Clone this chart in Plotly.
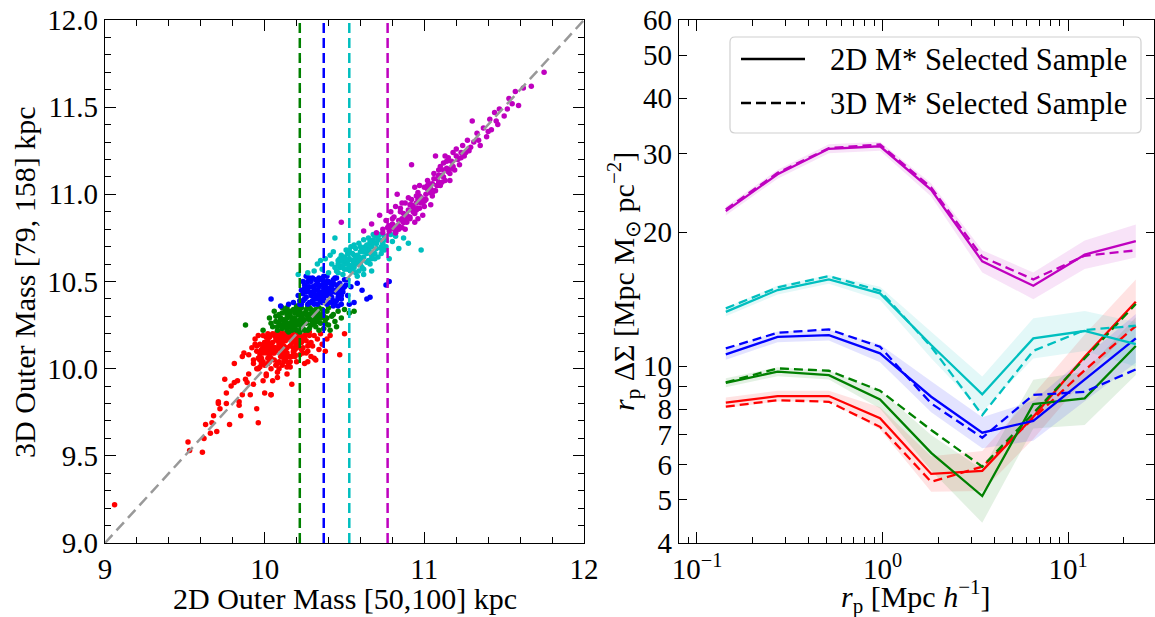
import math
import plotly.graph_objects as go

W, H = 1155, 617
FONT = "Liberation Serif"

# ---------------- left panel: outer mass comparison ----------------
red_x = [9.06, 9.52, 9.53, 9.61, 9.62, 9.63, 9.66, 9.67, 9.68, 9.70, 9.71, 9.71, 9.72, 9.75,
         9.76, 9.76, 9.78, 9.79, 9.81, 9.81, 9.83, 9.84, 9.84, 9.85, 9.86, 9.86, 9.87, 9.88,
         9.89, 9.90, 9.91, 9.93, 9.95, 9.95, 9.96, 9.97, 9.99, 9.99, 10.00, 10.01, 10.02, 10.04,
         10.05, 10.07, 10.08, 10.10, 10.11, 10.12, 10.14, 10.15,
         9.90, 9.92, 9.93, 9.94, 9.95, 9.96, 9.97, 9.98, 9.99, 10.00, 10.00, 10.01, 10.02, 10.03,
         10.04, 10.04, 10.05, 10.06, 10.07, 10.07, 10.08, 10.09, 10.10, 10.10, 10.11, 10.12, 10.13,
         10.13, 10.14, 10.15, 10.16, 10.16, 10.17, 10.18, 10.19, 10.20, 10.20, 10.21, 10.22, 10.23,
         10.24, 10.25, 10.26, 10.27, 10.28, 10.30, 10.31, 10.33, 10.35, 10.38, 10.41, 10.47, 10.50,
         10.27, 10.32, 10.17, 10.04, 10.06, 10.02, 9.97, 10.09, 10.12, 10.18, 10.22, 10.14, 10.08,
         10.11, 10.03, 9.99, 10.19, 10.05, 10.13, 10.01, 10.24, 10.29, 10.16, 10.21, 10.09, 10.06,
         10.15, 10.11, 10.02, 10.18,
         9.94, 9.96, 9.98, 10.00, 10.02, 10.03, 10.05, 10.06, 10.08, 10.09, 10.11, 10.12, 10.14,
         10.15, 10.17, 10.18, 10.20, 10.21, 10.23, 10.25, 10.26, 10.28, 10.01, 10.07, 10.13, 10.19,
         10.04, 10.10, 10.16, 9.98, 10.22, 10.12,
         9.93, 9.95, 9.97, 9.99, 10.01, 10.03, 10.05, 10.07, 10.09, 10.11, 10.13, 10.15, 10.17,
         10.19, 10.21, 10.23, 10.25, 10.27, 10.29, 9.96, 10.00, 10.04, 10.08, 10.12, 10.16, 10.20,
         10.24, 10.28, 10.02, 10.06, 10.10, 10.14, 10.18, 10.22, 9.98, 10.26, 10.31, 10.34, 10.36,
         10.39]
red_y = [9.22, 9.58, 9.53, 9.52, 9.60, 9.68, 9.63, 9.69, 9.73, 9.64, 9.80, 9.81, 9.77, 9.94,
         9.86, 9.80, 9.68, 9.90, 9.92, 10.03, 9.93, 9.81, 9.79, 9.73, 9.85, 10.07, 10.09, 9.94,
         9.92, 9.97, 9.85, 9.91, 9.77, 10.00, 9.69, 10.05, 9.93, 10.13, 9.86, 9.97, 10.11, 9.85,
         9.93, 10.02, 9.95, 10.11, 10.16, 10.13, 10.01, 10.17,
         10.08, 10.12, 10.03, 10.17, 10.10, 10.00, 10.14, 10.06, 10.19, 10.11, 10.02, 9.96, 10.16, 10.08,
         10.13, 10.00, 10.20, 10.05, 10.17, 10.10, 9.98, 10.14, 10.07, 10.19, 10.02, 10.12, 10.16,
         10.05, 10.09, 10.20, 10.13, 10.01, 10.07, 10.17, 10.11, 10.04, 10.19, 10.14, 10.08, 10.18,
         10.12, 10.03, 10.16, 10.10, 10.19, 10.13, 10.06, 10.17, 10.20, 10.10, 10.19, 10.08, 10.20,
         10.04, 10.05, 9.91, 9.85, 10.09, 10.20, 10.08, 10.21, 10.20, 10.21, 10.20, 9.97, 10.03,
         10.15, 10.18, 10.04, 10.15, 10.15, 10.10, 10.09, 10.17, 10.15, 10.04, 10.16, 10.12, 10.19,
         10.07, 10.20, 10.14, 10.10,
         10.14, 10.06, 10.11, 10.15, 10.06, 10.14, 10.09, 10.12, 10.16, 10.04, 10.09, 10.18, 10.12,
         10.07, 10.15, 10.09, 10.13, 10.17, 10.15, 10.18, 10.09, 10.21, 10.13, 10.12, 10.19, 10.07,
         10.10, 10.17, 10.18, 10.03, 10.16, 10.06,
         10.05, 10.13, 10.01, 10.09, 10.18, 10.04, 10.12, 10.20, 10.00, 10.13, 10.08, 10.03, 10.20,
         10.08, 10.17, 10.11, 10.19, 10.13, 10.07, 10.19, 10.15, 10.06, 10.18, 10.04, 10.20, 10.12,
         10.09, 10.14, 10.03, 10.11, 10.16, 10.18, 10.12, 10.15, 10.10, 10.20, 10.19, 10.11, 10.14,
         10.17]

green_x = [9.88, 9.99, 10.03, 10.05, 10.07, 10.08, 10.09, 10.10, 10.11, 10.12, 10.13, 10.14, 10.15,
           10.16, 10.17, 10.18, 10.19, 10.20, 10.21, 10.22, 10.23, 10.24, 10.25, 10.25, 10.26, 10.27,
           10.28, 10.29, 10.30, 10.31, 10.32, 10.33, 10.34, 10.35, 10.36, 10.37, 10.38, 10.39, 10.40,
           10.42, 10.44, 10.46, 10.48, 10.50, 10.53, 10.56, 10.06, 10.11, 10.15, 10.20, 10.27, 10.22,
           10.19, 10.14, 10.29, 10.34, 10.41, 10.45, 10.09, 10.17, 10.24, 10.31, 10.36, 10.12, 10.26,
           10.21, 10.18, 10.33, 10.28, 10.39, 10.16, 10.23, 10.30, 10.13, 10.25, 10.35, 10.20, 10.10,
           10.12, 10.15, 10.18, 10.21, 10.24, 10.27, 10.30, 10.33, 10.14, 10.17, 10.23, 10.26, 10.29,
           10.32, 10.19, 10.22, 10.08, 10.37,
           10.04, 10.07, 10.10, 10.13, 10.16, 10.19, 10.22, 10.25, 10.28, 10.31, 10.34, 10.37, 10.40,
           10.43, 10.11, 10.14, 10.17, 10.20, 10.23, 10.26, 10.29, 10.32, 10.35, 10.38, 10.21, 10.24,
           10.15, 10.27]
green_y = [10.25, 10.22, 10.29, 10.24, 10.27, 10.22, 10.31, 10.25, 10.23, 10.28, 10.33, 10.22, 10.26,
           10.30, 10.24, 10.34, 10.27, 10.22, 10.31, 10.25, 10.35, 10.28, 10.22, 10.32, 10.26, 10.30,
           10.23, 10.34, 10.27, 10.32, 10.24, 10.29, 10.35, 10.26, 10.31, 10.23, 10.28, 10.33, 10.25,
           10.30, 10.27, 10.33, 10.29, 10.34, 10.32, 10.33, 10.33, 10.35, 10.21, 10.36, 10.36, 10.21,
           10.32, 10.29, 10.28, 10.22, 10.22, 10.24, 10.26, 10.28, 10.31, 10.26, 10.34, 10.24, 10.34,
           10.27, 10.23, 10.33, 10.31, 10.29, 10.32, 10.29, 10.33, 10.27, 10.28, 10.29, 10.25, 10.29,
           10.27, 10.24, 10.29, 10.33, 10.26, 10.22, 10.30, 10.27, 10.31, 10.26, 10.23, 10.32, 10.25,
           10.30, 10.24, 10.28, 10.24, 10.30,
           10.26, 10.30, 10.28, 10.25, 10.33, 10.29, 10.33, 10.27, 10.35, 10.29, 10.31, 10.33, 10.35,
           10.31, 10.32, 10.35, 10.22, 10.34, 10.23, 10.31, 10.25, 10.34, 10.29, 10.26, 10.35, 10.23,
           10.31, 10.28]

blue_x = [10.04, 10.10, 10.15, 10.18, 10.21, 10.22, 10.23, 10.24, 10.25, 10.26, 10.27, 10.28, 10.29,
          10.30, 10.31, 10.32, 10.33, 10.34, 10.35, 10.36, 10.37, 10.38, 10.39, 10.40, 10.41, 10.42,
          10.43, 10.44, 10.45, 10.46, 10.47, 10.48, 10.49, 10.50, 10.52, 10.54, 10.56, 10.58, 10.61,
          10.64, 10.66, 10.76, 10.78, 10.26, 10.32, 10.39, 10.43, 10.35, 10.28, 10.30, 10.37, 10.42,
          10.46, 10.33, 10.40, 10.24, 10.27, 10.48, 10.51, 10.36, 10.31, 10.44, 10.53, 10.38, 10.29,
          10.34, 10.41, 10.45, 10.32, 10.39, 10.27, 10.47, 10.35, 10.43, 10.37,
          10.25, 10.28, 10.31, 10.34, 10.37, 10.40, 10.43, 10.46, 10.30, 10.33, 10.36, 10.39, 10.42,
          10.45, 10.22, 10.49,
          10.23, 10.26, 10.29, 10.32, 10.35, 10.38, 10.41, 10.44, 10.47, 10.50, 10.24, 10.27, 10.30,
          10.33, 10.36, 10.39, 10.42, 10.45, 10.48, 10.28, 10.31, 10.34, 10.37, 10.40, 10.43, 10.46,
          10.25, 10.52]
blue_y = [10.40, 10.36, 10.37, 10.38, 10.42, 10.37, 10.45, 10.39, 10.48, 10.41, 10.37, 10.44, 10.50,
          10.39, 10.46, 10.42, 10.37, 10.52, 10.44, 10.48, 10.40, 10.45, 10.37, 10.50, 10.43, 10.47,
          10.39, 10.52, 10.45, 10.41, 10.49, 10.37, 10.44, 10.51, 10.42, 10.47, 10.38, 10.49, 10.45,
          10.40, 10.41, 10.48, 10.50, 10.53, 10.51, 10.53, 10.36, 10.39, 10.38, 10.47, 10.50, 10.41,
          10.47, 10.45, 10.38, 10.43, 10.50, 10.42, 10.48, 10.42, 10.40, 10.44, 10.37, 10.48, 10.42,
          10.47, 10.46, 10.39, 10.40, 10.43, 10.46, 10.44, 10.41, 10.49, 10.44,
          10.40, 10.47, 10.43, 10.40, 10.46, 10.42, 10.45, 10.43, 10.44, 10.49, 10.41, 10.45, 10.38,
          10.48, 10.39, 10.46,
          10.37, 10.44, 10.38, 10.48, 10.51, 10.42, 10.49, 10.38, 10.45, 10.47, 10.50, 10.47, 10.52,
          10.41, 10.38, 10.50, 10.44, 10.52, 10.40, 10.52, 10.37, 10.43, 10.53, 10.46, 10.51, 10.36,
          10.46, 10.51]

cyan_x = [10.21, 10.27, 10.31, 10.33, 10.36, 10.38, 10.40, 10.42, 10.43, 10.44, 10.45, 10.46, 10.47,
          10.48, 10.49, 10.50, 10.51, 10.52, 10.53, 10.54, 10.55, 10.56, 10.57, 10.58, 10.59, 10.60,
          10.61, 10.62, 10.63, 10.64, 10.65, 10.66, 10.67, 10.68, 10.69, 10.70, 10.72, 10.73, 10.75,
          10.76, 10.78, 10.80, 10.82, 10.84, 10.87, 10.90, 10.98, 10.58, 10.62, 10.41, 10.35, 10.57,
          10.52, 10.64, 10.55, 10.60, 10.70, 10.48, 10.66, 10.74, 10.50, 10.44, 10.62, 10.68, 10.54,
          10.71, 10.59, 10.65, 10.51, 10.63, 10.56, 10.67, 10.46, 10.61, 10.53,
          10.49, 10.52, 10.55, 10.58, 10.61, 10.64, 10.67, 10.70, 10.56, 10.59, 10.62, 10.65, 10.47,
          10.73, 10.50, 10.68,
          10.46, 10.49, 10.52, 10.55, 10.58, 10.61, 10.64, 10.67, 10.70, 10.73, 10.76, 10.79, 10.48,
          10.51, 10.54, 10.57, 10.60, 10.63, 10.66, 10.69, 10.72, 10.75, 10.53, 10.59, 10.65, 10.71,
          10.62, 10.56]
cyan_y = [10.54, 10.55, 10.56, 10.60, 10.57, 10.63, 10.55, 10.60, 10.67, 10.75, 10.56, 10.62, 10.58,
          10.65, 10.54, 10.61, 10.68, 10.57, 10.63, 10.70, 10.59, 10.65, 10.55, 10.62, 10.72, 10.67,
          10.58, 10.64, 10.70, 10.61, 10.75, 10.67, 10.56, 10.72, 10.63, 10.69, 10.74, 10.66, 10.76,
          10.70, 10.63, 10.73, 10.76, 10.69, 10.75, 10.72, 10.68, 10.53, 10.54, 10.65, 10.62, 10.69,
          10.66, 10.71, 10.62, 10.60, 10.76, 10.59, 10.60, 10.72, 10.57, 10.58, 10.74, 10.77, 10.56,
          10.64, 10.64, 10.69, 10.60, 10.67, 10.61, 10.65, 10.60, 10.68, 10.59,
          10.62, 10.60, 10.66, 10.65, 10.69, 10.67, 10.70, 10.72, 10.58, 10.63, 10.67, 10.71, 10.63,
          10.69, 10.64, 10.74,
          10.55, 10.58, 10.62, 10.57, 10.60, 10.62, 10.66, 10.63, 10.72, 10.70, 10.74, 10.77, 10.62,
          10.63, 10.59, 10.64, 10.70, 10.68, 10.73, 10.66, 10.77, 10.68, 10.68, 10.56, 10.62, 10.74,
          10.57, 10.71]

magenta_x = [10.48, 10.62, 10.67, 10.70, 10.72, 10.74, 10.76, 10.78, 10.79, 10.80, 10.81, 10.82, 10.83,
             10.84, 10.85, 10.86, 10.87, 10.88, 10.89, 10.90, 10.91, 10.92, 10.92, 10.93, 10.94, 10.95,
             10.96, 10.97, 10.98, 10.99, 11.00, 11.01, 11.02, 11.03, 11.04, 11.05, 11.06, 11.07, 11.07,
             11.08, 11.09, 11.10, 11.11, 11.12, 11.13, 11.14, 11.15, 11.16, 11.17, 11.18, 11.19, 11.20,
             11.21, 11.22, 11.24, 11.25, 11.27, 11.28, 11.30, 11.31, 11.33, 11.35, 11.37, 11.39, 11.41,
             11.42, 11.44, 11.46, 11.47, 11.50, 11.53, 11.55, 11.57, 11.59, 11.62, 11.67, 11.75, 10.96,
             11.00, 10.88, 10.90, 11.03, 10.94, 10.97, 11.05, 11.10, 10.86, 10.82, 11.13, 11.16, 10.84,
             10.78, 10.92, 10.99, 11.02, 11.08, 10.74, 10.80, 10.95,
             10.83, 10.86, 10.89, 10.91, 10.93, 10.96, 10.98, 11.01, 11.04, 11.06, 11.09, 11.12, 11.15,
             11.18, 11.23, 11.26, 10.79, 10.87, 10.95, 11.00,
             10.81, 10.84, 10.87, 10.90, 10.93, 10.96, 10.99, 11.02, 11.05, 11.08, 11.11, 11.14, 11.17,
             11.20, 10.85, 10.88, 10.91, 10.94, 10.97, 11.00, 11.03, 11.06, 11.09, 11.12, 11.23, 11.29,
             11.34, 11.40, 11.45, 11.52, 10.77, 10.82]
magenta_y = [10.84, 10.79, 10.83, 10.78, 10.88, 10.80, 10.85, 10.79, 10.90, 10.83, 10.87, 10.78, 11.00,
             10.85, 10.92, 10.81, 10.89, 10.95, 10.84, 10.91, 10.87, 10.97, 11.17, 10.90, 10.84, 10.95,
             11.01, 10.92, 10.98, 10.88, 11.04, 10.97, 11.08, 11.01, 10.94, 11.06, 11.12, 11.22, 11.02,
             11.09, 11.14, 11.05, 11.11, 11.18, 11.08, 11.15, 11.21, 11.12, 11.19, 11.24, 11.14, 11.26,
             11.20, 11.17, 11.28, 11.22, 11.31, 11.25, 11.42, 11.30, 11.35, 11.28, 11.38, 11.33, 11.43,
             11.37, 11.47, 11.40, 11.49, 11.45, 11.55, 11.52, 11.59, 11.51, 11.61, 11.62, 11.70, 10.86,
             10.93, 10.80, 10.98, 11.06, 11.04, 11.05, 10.99, 11.16, 10.95, 10.93, 11.22, 11.08, 10.80,
             10.82, 10.94, 10.96, 11.03, 11.05, 10.78, 10.86, 10.99,
             10.82, 10.86, 10.88, 10.86, 10.93, 10.97, 10.95, 11.00, 11.03, 11.02, 11.07, 11.10, 11.13,
             11.16, 11.21, 11.24, 10.81, 10.84, 10.91, 10.97,
             10.80, 10.82, 10.84, 10.87, 10.92, 10.92, 10.96, 11.05, 11.01, 11.05, 11.07, 11.19, 11.15,
             11.22, 10.90, 10.86, 10.94, 10.89, 10.99, 10.96, 11.04, 11.09, 11.11, 11.14, 11.24, 11.27,
             11.31, 11.36, 11.42, 11.49, 10.81, 10.78]

# 2D-mass bin edges (vertical dashed lines)
bin_edges = [10.22, 10.37, 10.53, 10.77]

# ---------------- right panel: lensing profiles ----------------
rp = [0.143, 0.272, 0.514, 0.97, 1.83, 3.45, 6.5, 12.3, 23.2]
ds_2d = {
    "m": [22.3, 27.0, 30.8, 31.2, 24.9, 17.2, 15.15, 17.8, 19.1],
    "c": [13.24, 14.82, 15.66, 14.57, 11.15, 8.64, 11.54, 11.99, 11.2],
    "b": [10.62, 11.63, 11.74, 10.68, 8.53, 7.08, 7.53, 9.35, 11.54],
    "g": [9.17, 9.71, 9.54, 8.41, 6.38, 5.10, 8.21, 8.46, 11.09],
    "r": [8.27, 8.56, 8.56, 7.63, 5.72, 5.81, 7.69, 10.49, 13.95],
}
ds_3d = {
    "m": [22.5, 27.2, 30.9, 31.5, 25.2, 17.6, 15.66, 17.7, 18.2],
    "c": [13.48, 15.03, 15.93, 14.77, 11.05, 7.76, 10.82, 12.05, 12.32],
    "b": [10.96, 11.88, 12.09, 11.05, 8.24, 6.90, 8.61, 8.75, 9.83],
    "g": [9.19, 9.88, 9.76, 8.80, 7.18, 5.94, 7.83, 10.41, 13.79],
    "r": [8.10, 8.38, 8.31, 7.30, 5.49, 5.94, 7.63, 9.79, 12.30],
}
# 1-sigma scatter of the 2D profiles, in dex
err_2d = {
    "m": [0.01, 0.01, 0.01, 0.01, 0.015, 0.025, 0.03, 0.032, 0.037],
    "c": [0.01, 0.01, 0.01, 0.015, 0.03, 0.04, 0.045, 0.045, 0.05],
    "b": [0.012, 0.012, 0.012, 0.02, 0.035, 0.035, 0.045, 0.05, 0.055],
    "g": [0.01, 0.01, 0.01, 0.02, 0.04, 0.06, 0.055, 0.06, 0.065],
    "r": [0.012, 0.012, 0.012, 0.025, 0.04, 0.045, 0.05, 0.05, 0.05],
}

COL = {"r": (255, 0, 0), "g": (0, 128, 0), "b": (0, 0, 255), "c": (0, 191, 191), "m": (191, 0, 191)}


def rgb(c, a=1.0):
    r, g, b = COL[c]
    return f"rgba({r},{g},{b},{a})"


fig = go.Figure()

# scatter groups
for c, xs, ys in [("r", red_x, red_y), ("g", green_x, green_y), ("b", blue_x, blue_y),
                  ("c", cyan_x, cyan_y), ("m", magenta_x, magenta_y)]:
    fig.add_trace(go.Scatter(x=xs, y=ys, mode="markers", xaxis="x", yaxis="y",
                             marker=dict(size=5.5, color=rgb(c), line=dict(width=0)),
                             showlegend=False, hoverinfo="skip"))

# one-to-one line
fig.add_trace(go.Scatter(x=[9, 12], y=[9, 12], mode="lines", xaxis="x", yaxis="y",
                         line=dict(color="#999999", width=2.5, dash="11px,6px"),
                         showlegend=False, hoverinfo="skip"))

# bin edges
for c, xe in zip(["g", "b", "c", "m"], bin_edges):
    fig.add_trace(go.Scatter(x=[xe, xe], y=[9, 12], mode="lines", xaxis="x", yaxis="y",
                             line=dict(color=rgb(c), width=2.5, dash="10px,5px"),
                             showlegend=False, hoverinfo="skip"))

# profile bands, then lines
order = ["r", "g", "b", "c", "m"]
for c in order:
    up = [v * 10 ** e for v, e in zip(ds_2d[c], err_2d[c])]
    lo = [v * 10 ** (-e) for v, e in zip(ds_2d[c], err_2d[c])]
    fig.add_trace(go.Scatter(x=rp + rp[::-1], y=up + lo[::-1], mode="lines", fill="toself",
                             fillcolor=rgb(c, 0.11), line=dict(width=0),
                             xaxis="x2", yaxis="y2", showlegend=False, hoverinfo="skip"))
for c in order:
    fig.add_trace(go.Scatter(x=rp, y=ds_2d[c], mode="lines", xaxis="x2", yaxis="y2",
                             line=dict(color=rgb(c), width=2.3), showlegend=False))
    fig.add_trace(go.Scatter(x=rp, y=ds_3d[c], mode="lines", xaxis="x2", yaxis="y2",
                             line=dict(color=rgb(c), width=2.3, dash="9px,5px"), showlegend=False))

# ---------------- axes ----------------
px = lambda p: p / W
py = lambda p: 1 - p / H

tickfont = dict(family=FONT, size=29, color="black")
common = dict(showline=True, linecolor="black", linewidth=1.2, mirror="ticks", ticks="inside",
              tickcolor="black", tickwidth=1, showgrid=False, zeroline=False, tickfont=tickfont,
              automargin=False)

left_x_dom = [px(105), px(584)]
right_x_dom = [px(679), px(1154)]
y_dom = [py(543), py(20)]

lx_min, lx_max = -1.097, 1.4636
minor_log = [0.08, 0.09, 0.2, 0.3, 0.4, 0.5, 0.6, 0.7, 0.8, 0.9,
             2, 3, 4, 5, 6, 7, 8, 9, 20]

fig.update_layout(
    width=W, height=H, margin=dict(l=0, r=0, t=0, b=0, autoexpand=False),
    paper_bgcolor="white", plot_bgcolor="white",
    font=dict(family=FONT, color="black"),
    xaxis=dict(domain=left_x_dom, range=[9, 12], tickvals=[9, 10, 11, 12], ticklen=11,
               minor=dict(ticks="inside", ticklen=6, tickcolor="black", dtick=0.2, tick0=9),
               anchor="y", **common),
    yaxis=dict(domain=y_dom, range=[9, 12], tickvals=[9, 9.5, 10, 10.5, 11, 11.5, 12],
               ticktext=["9.0", "9.5", "10.0", "10.5", "11.0", "11.5", "12.0"], ticklen=11,
               minor=dict(ticks="inside", ticklen=6, tickcolor="black", dtick=0.1, tick0=9),
               anchor="x", **common),
    xaxis2=dict(domain=right_x_dom, type="log", range=[lx_min, lx_max], tickvals=[0.1, 1, 10],
                ticktext=["10<sup>−1</sup>", "10<sup>0</sup>", "10<sup>1</sup>"], ticklen=11,
                minor=dict(ticks="inside", ticklen=6, tickcolor="black", tickvals=minor_log),
                anchor="y2", **common),
    yaxis2=dict(domain=y_dom, type="log", range=[math.log10(4), math.log10(60)],
                tickvals=[4, 5, 6, 7, 8, 9, 10, 20, 30, 40, 50, 60],
                ticktext=["4", "5", "6", "7", "8", "9", "10", "20", "30", "40", "50", "60"],
                ticklen=8, anchor="x2", **common),
)

# axis titles
title_font = dict(family=FONT, size=30, color="black")
ann = [
    dict(x=px(345), y=py(598), text="2D Outer Mass [50,100] kpc"),
    dict(x=px(24), y=py(282), text="3D Outer Mass [79, 158] kpc", textangle=-90),
    dict(x=px(916), y=py(596), text="<i>r</i><sub>p</sub> [Mpc <i>h</i><sup>−1</sup>]"),
    dict(x=px(623), y=py(282), text="<i>r</i><sub>p</sub> ΔΣ [Mpc M<sub>⊙</sub> pc<sup>−2</sup>]",
         textangle=-90),
]
for a in ann:
    fig.add_annotation(xref="paper", yref="paper", showarrow=False, font=title_font,
                       xanchor="center", yanchor="middle", **a)

# legend box
x0, x1, y0, y1, rad = 730, 1141, 37, 133, 5
path = (f"M {px(x0 + rad)},{py(y0)} L {px(x1 - rad)},{py(y0)} "
        f"Q {px(x1)},{py(y0)} {px(x1)},{py(y0 + rad)} L {px(x1)},{py(y1 - rad)} "
        f"Q {px(x1)},{py(y1)} {px(x1 - rad)},{py(y1)} L {px(x0 + rad)},{py(y1)} "
        f"Q {px(x0)},{py(y1)} {px(x0)},{py(y1 - rad)} L {px(x0)},{py(y0 + rad)} "
        f"Q {px(x0)},{py(y0)} {px(x0 + rad)},{py(y0)} Z")
fig.add_shape(type="path", path=path, xref="paper", yref="paper",
              line=dict(color="#d0d0d0", width=1.2), fillcolor="rgba(255,255,255,0.8)")
for yy, dash, label in [(59, "solid", "2D M* Selected Sample"),
                        (103, "10px,5px", "3D M* Selected Sample")]:
    fig.add_shape(type="line", xref="paper", yref="paper", x0=px(741), x1=px(805),
                  y0=py(yy), y1=py(yy), line=dict(color="black", width=2.3, dash=dash))
    fig.add_annotation(xref="paper", yref="paper", x=px(828), y=py(yy + 1), text=label,
                       showarrow=False, xanchor="left", yanchor="middle",
                       font=dict(family=FONT, size=30.5, color="black"))

fig.write_html("out.html")
